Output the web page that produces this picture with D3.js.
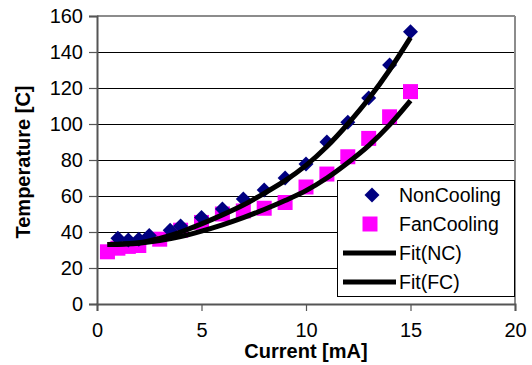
<!DOCTYPE html>
<html>
<head>
<meta charset="utf-8">
<script src="https://cdn.jsdelivr.net/npm/d3@7"></script>
<style>
  html, body { margin: 0; padding: 0; background: #fff; }
  svg { display: block; font-family: "Liberation Sans", Arial, sans-serif; }
</style>
</head>
<body>
<svg id="chart" width="532" height="365"></svg>
<script>
// ---- data ----
const ncCurrent = [1, 1.5, 2, 2.5, 3.5, 4, 5, 6, 7, 8, 9, 10, 11, 12, 13, 14, 15];
const ncTemp    = [36.5, 35.5, 36, 38, 41, 43.3, 48, 52.8, 58.3, 63.3, 70, 77.8, 90, 101, 114.4, 132.8, 151.3];

const fcCurrent = [0.5, 1, 1.5, 2, 3, 4, 5, 6, 7, 8, 9, 10, 11, 12, 13, 14, 15];
const fcTemp    = [29, 31, 32, 32.5, 36, 41, 45.3, 50, 51.7, 53.2, 56.4, 65, 72.2, 81.8, 92, 104, 118];

// trend lines
const fitNCx = [0.5, 2, 3, 4, 5, 6, 7, 8, 9, 10, 11, 12, 13, 14, 15];
const fitNCy = [33, 34, 36.5, 40, 44.5, 49.5, 55, 61.5, 68.5, 77, 87.5, 100, 114, 130, 148];
const fitFCx = [0.5, 2, 3, 4, 5, 6, 7, 8, 9, 10, 11, 12, 13, 14, 15];
const fitFCy = [33, 33.8, 35.3, 37.5, 40.5, 44, 48, 52.5, 57.5, 63, 70, 78.5, 88, 99.5, 113];

const xTicks = [0, 5, 10, 15, 20];
const yTicks = [0, 20, 40, 60, 80, 100, 120, 140, 160];
const legendLabels = ["NonCooling", "FanCooling", "Fit(NC)", "Fit(FC)"];
const xTitle = "Current [mA]";
const yTitle = "Temperature [C]";

// ---- layout ----
(function () {
const svg = d3.select("#chart");
const pL = 97, pR = 515, pT = 16, pB = 304;
const x = d3.scaleLinear().domain([0, 20]).range([pL, pR]);
const y = d3.scaleLinear().domain([0, 160]).range([pB, pT]);
const FS = 20;

// gridlines
svg.append("g").selectAll("line")
  .data(yTicks.filter(t => t > 0 && t < 160))
  .join("line")
  .attr("x1", pL).attr("x2", pR)
  .attr("y1", d => y(d)).attr("y2", d => y(d))
  .attr("stroke", "#000").attr("stroke-width", 1).attr("shape-rendering", "crispEdges");

// frame top/right (gray)
svg.append("line").attr("x1", pL).attr("x2", pR).attr("y1", pT).attr("y2", pT)
  .attr("stroke", "#8c8c8c").attr("stroke-width", 2);
svg.append("line").attr("x1", pR).attr("x2", pR).attr("y1", pT).attr("y2", pB)
  .attr("stroke", "#8c8c8c").attr("stroke-width", 2);

// axes
const yAxis = d3.axisLeft(y).tickValues(yTicks).tickSize(8).tickPadding(6).tickFormat(d3.format("d"));
const gy = svg.append("g").attr("transform", `translate(${pL},0)`).call(yAxis);
const xAxis = d3.axisBottom(x).tickValues(xTicks).tickSize(7).tickPadding(12).tickFormat(d3.format("d"));
const gx = svg.append("g").attr("transform", `translate(0,${pB})`).call(xAxis);
[gx, gy].forEach(g => {
  g.select(".domain").attr("stroke", "#555").attr("stroke-width", 2);
  g.selectAll(".tick line").attr("stroke", "#555").attr("stroke-width", 1.2);
  g.selectAll(".tick text").attr("fill", "#000").style("font-size", FS + "px")
    .style("font-family", "'Liberation Sans', Arial, sans-serif");
});

// axis titles
svg.append("text").attr("x", (pL + pR) / 2).attr("y", 358)
  .attr("text-anchor", "middle").style("font-weight", "bold").style("font-size", FS + "px")
  .text(xTitle);
svg.append("text").attr("transform", "translate(23,162) rotate(-90)")
  .attr("text-anchor", "middle").attr("dominant-baseline", "central")
  .style("font-weight", "bold").style("font-size", FS + "px")
  .text(yTitle);

// markers
const ncData = ncCurrent.map((c, i) => ({ x: c, y: ncTemp[i] }));
const fcData = fcCurrent.map((c, i) => ({ x: c, y: fcTemp[i] }));
const diamond = d3.symbol().type(d3.symbolSquare).size(112);
const square = d3.symbol().type(d3.symbolSquare).size(225);

svg.append("g").selectAll("path").data(fcData).join("path")
  .attr("d", square)
  .attr("transform", d => `translate(${x(d.x)},${y(d.y)})`)
  .attr("fill", "#ff00ff");
svg.append("g").selectAll("path").data(ncData).join("path")
  .attr("d", diamond)
  .attr("transform", d => `translate(${x(d.x)},${y(d.y)}) rotate(45)`)
  .attr("fill", "#000080");

// fit lines
const line = d3.line().x(d => x(d.x)).y(d => y(d.y)).curve(d3.curveMonotoneX);
const fitNC = fitNCx.map((v, i) => ({ x: v, y: fitNCy[i] }));
const fitFC = fitFCx.map((v, i) => ({ x: v, y: fitFCy[i] }));
[fitNC, fitFC].forEach(dat => {
  svg.append("path").datum(dat).attr("d", line)
    .attr("fill", "none").attr("stroke", "#000").attr("stroke-width", 5)
    .attr("stroke-linecap", "butt");
});

// legend
const lg = svg.append("g");
lg.append("rect").attr("x", 337.5).attr("y", 180.5).attr("width", 177).attr("height", 116)
  .attr("fill", "#fff").attr("stroke", "#000").attr("stroke-width", 1);
const rowsY = [195, 224, 253, 282];
lg.append("path").attr("d", diamond).attr("transform", `translate(372,${rowsY[0]}) rotate(45)`).attr("fill", "#000080");
lg.append("path").attr("d", square).attr("transform", `translate(370,${rowsY[1]})`).attr("fill", "#ff00ff");
[2, 3].forEach(i => {
  lg.append("line").attr("x1", 343).attr("x2", 396).attr("y1", rowsY[i]).attr("y2", rowsY[i])
    .attr("stroke", "#000").attr("stroke-width", 5);
});
lg.selectAll("text.lab").data(legendLabels).join("text").attr("class", "lab")
  .attr("x", 399).attr("y", (d, i) => rowsY[i])
  .attr("dominant-baseline", "central")
  .style("font-size", "19.5px")
  .text(d => d);
})();
</script>
</body>
</html>
